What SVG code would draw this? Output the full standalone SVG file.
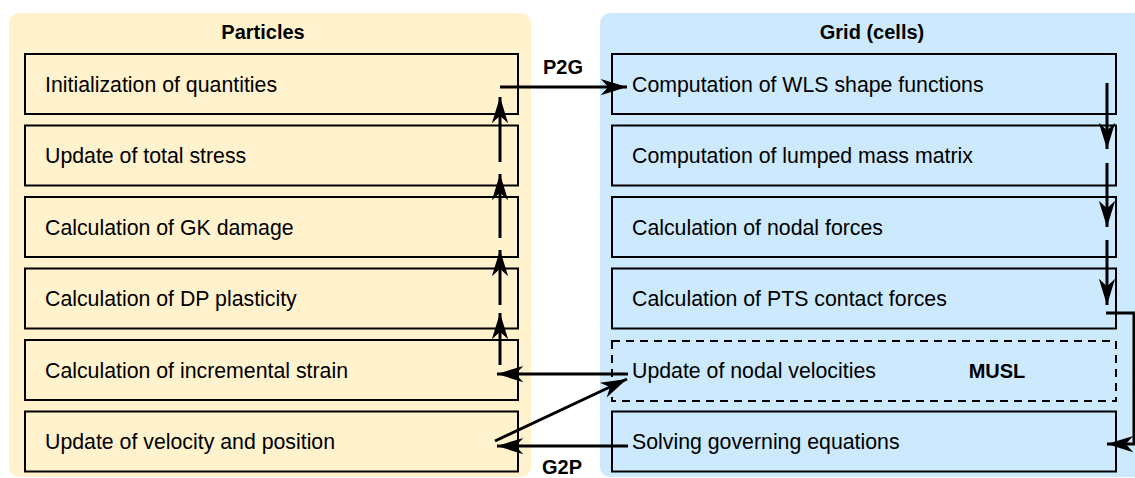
<svg xmlns="http://www.w3.org/2000/svg" width="1135" height="478" viewBox="0 0 1135 478">
<defs>
<marker id="ah" markerUnits="userSpaceOnUse" markerWidth="30" markerHeight="20" viewBox="-22 -8 24 16" refX="0" refY="0" orient="auto">
<path d="M0,0 L-21,-6.5 L-15,0 L-21,6.5 Z" fill="#000"/>
</marker>
<style>
.pan-l{fill:#fff2cc;}
.pan-r{fill:#cce9fd;}
.box{fill:none;stroke:#000;stroke-width:2;}
.dash{fill:none;stroke:#000;stroke-width:2;stroke-dasharray:8 6;}
.t{font-family:"Liberation Sans",Arial,sans-serif;font-size:21.3px;fill:#000;}
.h{font-family:"Liberation Sans",Arial,sans-serif;font-size:20px;font-weight:bold;fill:#000;text-anchor:middle;}
.e{fill:none;stroke:#000;stroke-width:3;}
.ea{fill:none;stroke:#000;stroke-width:3;marker-end:url(#ah);}
</style>
</defs>
<g id="particles-panel">
<rect class="pan-l" x="9" y="13" width="522" height="464" rx="10"/>
<text class="h" x="263" y="39">Particles</text>
</g>
<g id="grid-panel">
<rect class="pan-r" x="600" y="13" width="550" height="464" rx="10"/>
<text class="h" x="872" y="39">Grid (cells)</text>
</g>
<g id="p1"><rect class="box" x="25" y="54" width="493" height="60"/><text class="t" x="45" y="91.5">Initialization of quantities</text></g>
<g id="p2"><rect class="box" x="25" y="125.5" width="493" height="60"/><text class="t" x="45" y="163">Update of total stress</text></g>
<g id="p3"><rect class="box" x="25" y="197" width="493" height="60"/><text class="t" x="45" y="234.5">Calculation of GK damage</text></g>
<g id="p4"><rect class="box" x="25" y="268.5" width="493" height="60"/><text class="t" x="45" y="306">Calculation of DP plasticity</text></g>
<g id="p5"><rect class="box" x="25" y="340" width="493" height="60"/><text class="t" x="45" y="377.5">Calculation of incremental strain</text></g>
<g id="p6"><rect class="box" x="25" y="411.5" width="493" height="60"/><text class="t" x="45" y="449">Update of velocity and position</text></g>
<g id="g1"><rect class="box" x="612" y="54" width="504" height="60"/><text class="t" x="632" y="91.5">Computation of WLS shape functions</text></g>
<g id="g2"><rect class="box" x="612" y="125.5" width="504" height="60"/><text class="t" x="632" y="163">Computation of lumped mass matrix</text></g>
<g id="g3"><rect class="box" x="612" y="197" width="504" height="60"/><text class="t" x="632" y="234.5">Calculation of nodal forces</text></g>
<g id="g4"><rect class="box" x="612" y="268.5" width="504" height="60"/><text class="t" x="632" y="306">Calculation of PTS contact forces</text></g>
<g id="g5"><rect class="dash" x="612" y="341" width="504" height="60"/><text class="t" x="632" y="377.5">Update of nodal velocities</text><text class="h" x="997" y="377.5">MUSL</text></g>
<g id="g6"><rect class="box" x="612" y="411.5" width="504" height="60"/><text class="t" x="632" y="449">Solving governing equations</text></g>
<g id="connectors">
<path class="ea" d="M500,87 L627,87"/>
<text class="h" x="563" y="74">P2G</text>
<path class="ea" d="M500,365 L500,313"/>
<path class="ea" d="M500,305 L500,250"/>
<path class="ea" d="M500,238 L500,174"/>
<path class="ea" d="M500,162 L500,97"/>
<path class="ea" d="M1107,83 L1107,149"/>
<path class="ea" d="M1107,163 L1107,227"/>
<path class="ea" d="M1107,240 L1107,305"/>
<path class="ea" d="M1106,313 L1134,313 L1134,444 L1107,444"/>
<path class="ea" d="M628,374 L497,374"/>
<path class="ea" d="M495,441 L627,379"/>
<path class="ea" d="M628,446 L497,446"/>
<text class="h" x="562" y="474">G2P</text>
</g>
</svg>
